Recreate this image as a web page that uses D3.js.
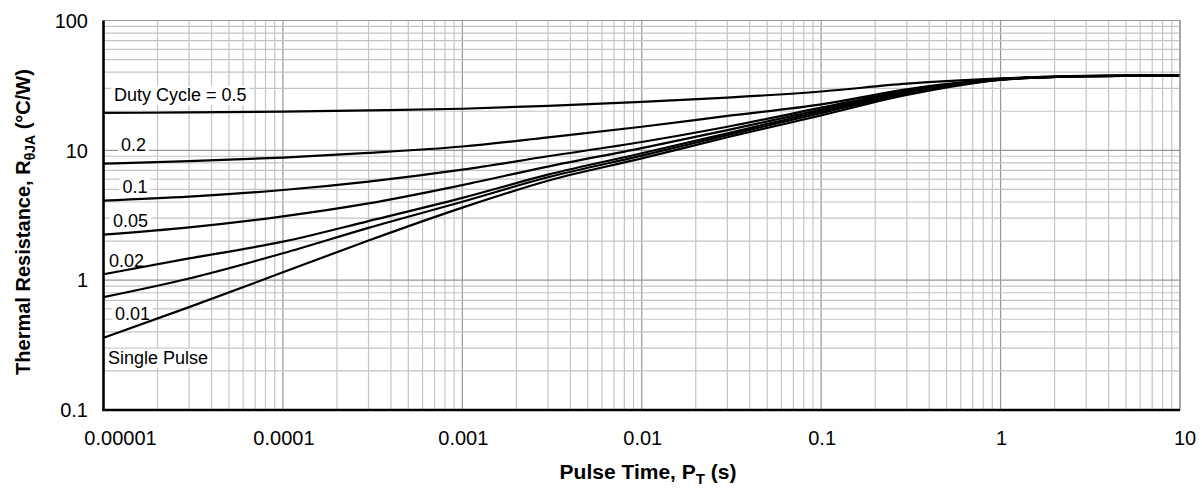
<!DOCTYPE html>
<html>
<head>
<meta charset="utf-8">
<script src="https://cdn.jsdelivr.net/npm/d3@7"></script>
<style>
  html, body { margin: 0; padding: 0; background: #fff; }
  svg { display: block; }
</style>
</head>
<body>
<div id="chart"></div>
<script>
// ── Data ────────────────────────────────────────────────────────────────────
const pulseTimes = [1e-5, 3e-5, 1e-4, 3e-4, 1e-3, 3e-3, 1e-2, 3e-2, 0.1, 0.3, 1, 3, 10];

const duty050 = [19.4, 19.6, 19.9, 20.3, 20.9, 22.0, 23.6, 25.5, 28.4, 32.6, 35.8, 37.4, 37.8];
const duty020 = [7.9, 8.25, 8.8, 9.55, 10.7, 12.6, 15.2, 18.4, 22.6, 29.5, 35.5, 37.3, 37.8];
const duty010 = [4.1, 4.4, 4.95, 5.75, 7.1, 9.0, 11.6, 15.2, 21.3, 28.9, 35.3, 37.3, 37.8];
const duty005 = [2.24, 2.55, 3.1, 3.9, 5.4, 7.5, 10.4, 14.3, 20.6, 28.2, 35.2, 37.3, 37.8];
const duty002 = [1.11, 1.47, 1.98, 2.85, 4.3, 6.5, 9.5, 13.5, 20.0, 27.7, 35.1, 37.3, 37.8];
const duty001 = [0.74, 1.03, 1.61, 2.53, 4.02, 6.2, 9.1, 13.1, 19.4, 27.2, 35.0, 37.2, 37.8];
const single  = [0.36, 0.62, 1.15, 2.02, 3.62, 5.83, 8.67, 12.6, 18.6, 26.7, 34.9, 37.2, 37.8];

const seriesNames = ['Duty Cycle = 0.5', '0.2', '0.1', '0.05', '0.02', '0.01', 'Single Pulse'];
const seriesValues = [duty050, duty020, duty010, duty005, duty002, duty001, single];

const xTicks = [1e-5, 1e-4, 1e-3, 1e-2, 0.1, 1, 10];
const xTickLabels = ['0.00001', '0.0001', '0.001', '0.01', '0.1', '1', '10'];
const yTicks = [0.1, 1, 10, 100];
const yTickLabels = ['0.1', '1', '10', '100'];

// ── Layout ──────────────────────────────────────────────────────────────────
const W = 1202, H = 492;
const PLOT = { l: 103.5, r: 1180, t: 20.5, b: 410 };
const FONT = '"Liberation Sans", Arial, sans-serif';

// label placement, px offset from each curve's first point
const labelOffsets = [[10.5, -12], [17.5, -12.5], [19, -8], [9.5, -7.5], [5.5, -7.5], [11.5, 23], [4.5, 26]];

const svg = d3.select('#chart').append('svg')
  .attr('width', W).attr('height', H)
  .attr('viewBox', `0 0 ${W} ${H}`);

const x = d3.scaleLog().domain([1e-5, 10]).range([PLOT.l, PLOT.r]);
const y = d3.scaleLog().domain([0.1, 100]).range([PLOT.b, PLOT.t]);

// ── Grid ────────────────────────────────────────────────────────────────────
const grid = svg.append('g');
const xGrid = [], yGrid = [];
for (let e = -5; e < 1; e++) for (let m = 1; m < 10; m++) xGrid.push({ v: m * Math.pow(10, e), major: m === 1 });
xGrid.push({ v: 10, major: true });
for (let e = -1; e < 2; e++) for (let m = 1; m < 10; m++) yGrid.push({ v: m * Math.pow(10, e), major: m === 1 });
yGrid.push({ v: 100, major: true });

grid.selectAll('line.gx').data(xGrid).join('line')
  .attr('class', 'gx')
  .attr('x1', d => x(d.v)).attr('x2', d => x(d.v))
  .attr('y1', PLOT.t).attr('y2', PLOT.b)
  .attr('stroke', d => d.major ? '#979797' : '#c4c4c4')
  .attr('stroke-width', 1.2);

grid.selectAll('line.gy').data(yGrid).join('line')
  .attr('class', 'gy')
  .attr('x1', PLOT.l).attr('x2', PLOT.r)
  .attr('y1', d => y(d.v)).attr('y2', d => y(d.v))
  .attr('stroke', d => d.major ? '#979797' : '#c4c4c4')
  .attr('stroke-width', 1.2);

// ── Curve labels: white boxes go under the curves, text over them ───────────
const labels = seriesNames.map((name, i) => ({
  name,
  lx: x(pulseTimes[0]) + labelOffsets[i][0],
  ly: y(seriesValues[i][0]) + labelOffsets[i][1]
}));

const bgG = svg.append('g');
const curveG = svg.append('g');
const txtG = svg.append('g');

// ── Curves ──────────────────────────────────────────────────────────────────
const line = d3.line()
  .x(d => x(d[0]))
  .y(d => y(d[1]))
  .curve(d3.curveMonotoneX);

seriesValues.forEach(vals => {
  curveG.append('path')
    .attr('d', line(pulseTimes.map((t, i) => [t, vals[i]])))
    .attr('fill', 'none')
    .attr('stroke', '#000')
    .attr('stroke-width', 2.2)
    .attr('stroke-linejoin', 'round');
});

labels.forEach(l => {
  const t = txtG.append('text')
    .attr('x', l.lx).attr('y', l.ly)
    .attr('font-family', FONT).attr('font-size', 18)
    .attr('fill', '#000')
    .text(l.name);
  const bb = t.node().getBBox();
  bgG.append('rect')
    .attr('x', bb.x - 3).attr('y', bb.y + 1)
    .attr('width', bb.width + 6).attr('height', bb.height - 1)
    .attr('fill', '#fff');
});

// ── Frame ───────────────────────────────────────────────────────────────────
svg.append('line')
  .attr('x1', PLOT.l).attr('x2', PLOT.r).attr('y1', PLOT.t).attr('y2', PLOT.t)
  .attr('stroke', '#979797').attr('stroke-width', 1.2);
svg.append('line')
  .attr('x1', PLOT.r).attr('x2', PLOT.r).attr('y1', PLOT.t).attr('y2', PLOT.b)
  .attr('stroke', '#979797').attr('stroke-width', 1.2);
svg.append('line')
  .attr('x1', PLOT.l).attr('x2', PLOT.l).attr('y1', PLOT.t).attr('y2', PLOT.b + 1)
  .attr('stroke', '#000').attr('stroke-width', 2.6);
svg.append('line')
  .attr('x1', PLOT.l - 1).attr('x2', PLOT.r).attr('y1', PLOT.b).attr('y2', PLOT.b)
  .attr('stroke', '#000').attr('stroke-width', 2.6);

// ── Tick labels ─────────────────────────────────────────────────────────────
svg.append('g').selectAll('text').data(xTicks).join('text')
  .attr('x', (d, i) => x(d) + (i === 0 ? 17 : i === xTicks.length - 1 ? 5 : 1))
  .attr('y', 444.5)
  .attr('text-anchor', 'middle')
  .attr('font-family', FONT).attr('font-size', 20)
  .text((d, i) => xTickLabels[i]);

svg.append('g').selectAll('text').data(yTicks).join('text')
  .attr('x', 88)
  .attr('y', d => y(d))
  .attr('dy', '0.36em')
  .attr('text-anchor', 'end')
  .attr('font-family', FONT).attr('font-size', 20)
  .text((d, i) => yTickLabels[i]);

// ── Axis titles ─────────────────────────────────────────────────────────────
const xt = svg.append('text')
  .attr('x', 648).attr('y', 479)
  .attr('text-anchor', 'middle')
  .attr('font-family', FONT).attr('font-size', 21).attr('font-weight', 700);
xt.append('tspan').text('Pulse Time, P');
xt.append('tspan').attr('font-size', 15).attr('dy', 5).text('T');
xt.append('tspan').attr('dy', -5).text(' (s)');

const yt = svg.append('text')
  .attr('transform', 'translate(30, 222) rotate(-90)')
  .attr('text-anchor', 'middle')
  .attr('font-family', FONT).attr('font-size', 20).attr('font-weight', 700);
yt.append('tspan').text('Thermal Resistance, R');
yt.append('tspan').attr('font-size', 14).attr('dy', 5).text('θJA');
yt.append('tspan').attr('dy', -5).text(' (°C/W)');
</script>
</body>
</html>
